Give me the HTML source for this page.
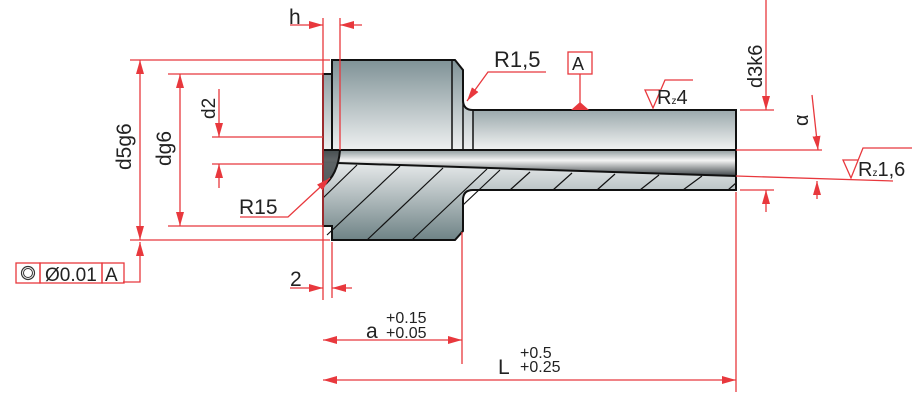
<!DOCTYPE html>
<html><head><meta charset="utf-8"><style>
body{margin:0;background:#fff;}
svg{display:block;}
text{font-family:"Liberation Sans",sans-serif;fill:#222;}
</style></head><body>
<svg width="922" height="409" viewBox="0 0 922 409" xmlns="http://www.w3.org/2000/svg">
<defs>
<linearGradient id="g1" x1="0" y1="0" x2="0" y2="1">
<stop offset="0" stop-color="#7f9296"/><stop offset="1" stop-color="#eef0f0"/></linearGradient>
<linearGradient id="g2" x1="0" y1="0" x2="0" y2="1">
<stop offset="0" stop-color="#e6e9ea"/><stop offset="1" stop-color="#6f8386"/></linearGradient>
<linearGradient id="g3" x1="0" y1="0" x2="0" y2="1">
<stop offset="0" stop-color="#8e9a9c"/><stop offset="0.4" stop-color="#f4f4f4"/><stop offset="1" stop-color="#3e4548"/></linearGradient>
<linearGradient id="g4" x1="0" y1="0" x2="0" y2="1">
<stop offset="0" stop-color="#9aa8ab"/><stop offset="1" stop-color="#f2f3f3"/></linearGradient>
<marker id="a" markerWidth="14" markerHeight="8" refX="14" refY="4" orient="auto" markerUnits="userSpaceOnUse">
<path d="M0,0 L14,4 L0,8 Z" fill="#e8383d"/></marker>
</defs>
<path d="M332,60 L455,60 L463,70 L463,100 Q463,110 473,110 L736,110 L736,150 L323,150 L323,74 L332,74 Z" fill="url(#g1)"/>
<rect x="473" y="110" width="263" height="40" fill="url(#g4)"/>
<path d="M323,163 L736,176 L736,190 L473,190 Q463,190 463,200 L463,231 L455,240 L332,240 L332,226 L323,226 Z" fill="url(#g2)"/>
<path d="M323,150 L736,150 L736,176 L323,163 Z" fill="url(#g3)"/>
<path d="M323,150 L340,150 Q338,175 323,186 Z" fill="#2f3538" opacity="0.75"/>
<g stroke="#111" stroke-width="1.2">
<line x1="323" y1="198" x2="357" y2="165"/><line x1="327" y1="235" x2="400" y2="166"/>
<line x1="367" y1="240" x2="443" y2="168"/><line x1="412" y1="240" x2="487" y2="169"/>
<line x1="463" y1="205" x2="500" y2="170"/><line x1="510" y1="190" x2="530" y2="172"/>
<line x1="553" y1="190" x2="572" y2="173"/><line x1="597" y1="190" x2="615" y2="174"/>
<line x1="640" y1="190" x2="659" y2="175"/><line x1="683" y1="190" x2="702" y2="176"/>
<line x1="728" y1="190" x2="736" y2="183"/>
</g>
<g fill="none" stroke="#111" stroke-width="2">
<path d="M332,60 L455,60 L463,70 L463,100 Q463,110 473,110 L736,110 L736,190 L473,190 Q463,190 463,200 L463,231 L455,240 L332,240 L332,226 L323,226 L323,74 L332,74 Z"/>
<line x1="323" y1="150" x2="736" y2="150"/>
<path d="M340,150 Q338,175 323,186"/>
<line x1="337" y1="163" x2="736" y2="176"/>
<line x1="332" y1="74" x2="332" y2="150"/>
<line x1="452" y1="60" x2="452" y2="150" stroke-width="1.5"/>
<line x1="463" y1="100" x2="463" y2="150" stroke-width="1.5"/>
<line x1="473" y1="110" x2="473" y2="150" stroke-width="1.5"/>
</g>
<g stroke="#e8383d" stroke-width="1.3" fill="none">
<line x1="323" y1="18" x2="323" y2="300"/><line x1="340" y1="18" x2="340" y2="150"/>
<line x1="290" y1="25" x2="323" y2="25" marker-end="url(#a)"/><line x1="362" y1="25" x2="340" y2="25" marker-end="url(#a)"/>
<line x1="130" y1="60" x2="330" y2="60"/><line x1="130" y1="240" x2="330" y2="240"/>
<line x1="140" y1="140" x2="140" y2="60" marker-end="url(#a)"/><line x1="140" y1="140" x2="140" y2="240" marker-end="url(#a)"/>
<line x1="168" y1="74" x2="323" y2="74"/><line x1="168" y1="226" x2="323" y2="226"/>
<line x1="180" y1="150" x2="180" y2="74" marker-end="url(#a)"/><line x1="180" y1="150" x2="180" y2="226" marker-end="url(#a)"/>
<line x1="212" y1="137" x2="323" y2="137"/><line x1="212" y1="164" x2="323" y2="164"/>
<line x1="219" y1="89" x2="219" y2="137" marker-end="url(#a)"/><line x1="219" y1="188" x2="219" y2="164" marker-end="url(#a)"/>
<polyline points="240,217 288,217 330,178" marker-end="url(#a)"/>
<polyline points="123,282 140,282 140,242" marker-end="url(#a)"/>
<line x1="332" y1="242" x2="332" y2="298"/>
<line x1="290" y1="288" x2="323" y2="288" marker-end="url(#a)"/><line x1="352" y1="288" x2="332" y2="288" marker-end="url(#a)"/>
<line x1="462" y1="232" x2="462" y2="364"/>
<line x1="390" y1="340" x2="323" y2="340" marker-end="url(#a)"/><line x1="390" y1="340" x2="462" y2="340" marker-end="url(#a)"/>
<line x1="736" y1="192" x2="736" y2="392"/>
<line x1="530" y1="380" x2="323" y2="380" marker-end="url(#a)"/><line x1="530" y1="380" x2="736" y2="380" marker-end="url(#a)"/>
<polyline points="546,72 488,72 467,101" marker-end="url(#a)"/>
<rect x="568" y="52" width="24" height="22"/><line x1="580" y1="74" x2="580" y2="106"/>
<path d="M660,90 L645,90 L653,108 L665,80 L693,80"/>
<line x1="740" y1="110" x2="774" y2="110"/><line x1="740" y1="190" x2="774" y2="190"/>
<line x1="766" y1="0" x2="766" y2="110" marker-end="url(#a)"/><line x1="766" y1="212" x2="766" y2="190" marker-end="url(#a)"/>
<line x1="736" y1="150" x2="822" y2="150"/>
<line x1="812" y1="95" x2="818" y2="150" marker-end="url(#a)"/>
<line x1="736" y1="176" x2="893" y2="181"/>
<line x1="817" y1="199" x2="817" y2="181" marker-end="url(#a)"/>
<path d="M858,160 L843,160 L851,178 L863,148 L912,148"/>
<rect x="16" y="263" width="24" height="20"/><rect x="40" y="263" width="62" height="20"/><rect x="102" y="263" width="22" height="20"/>
</g>
<path d="M571,110 L580,102 L589,110 Z" fill="#e8383d"/>
<circle cx="28" cy="273" r="6.5" fill="none" stroke="#333" stroke-width="1.2"/>
<circle cx="28" cy="273" r="4.5" fill="none" stroke="#333" stroke-width="1"/>
<text x="289" y="24" font-size="21">h</text>
<text x="239" y="214" font-size="21">R15</text>
<text x="290" y="286" font-size="21">2</text>
<text x="45" y="281" font-size="19">Ø0.01</text>
<text x="105" y="281" font-size="19">A</text>
<text x="494" y="67" font-size="22">R1,5</text>
<text x="572" y="70" font-size="18">A</text>
<text x="657" y="104" font-size="20">R<tspan font-size="10">z</tspan>4</text>
<text x="858" y="176" font-size="20">R<tspan font-size="10">z</tspan>1,6</text>
<text x="366" y="338" font-size="21">a</text>
<text x="386" y="323" font-size="16">+0.15</text>
<text x="386" y="338" font-size="16">+0.05</text>
<text x="498" y="374" font-size="21">L</text>
<text x="520" y="358" font-size="16">+0.5</text>
<text x="520" y="372" font-size="16">+0.25</text>
<text transform="translate(131,170) rotate(-90)" font-size="21">d5g6</text>
<text transform="translate(171,166) rotate(-90)" font-size="21">dg6</text>
<text transform="translate(215,119) rotate(-90)" font-size="19">d2</text>
<text transform="translate(762,88) rotate(-90)" font-size="20">d3k6</text>
<text transform="translate(808,126) rotate(-90)" font-size="20">α</text>
</svg>
</body></html>
